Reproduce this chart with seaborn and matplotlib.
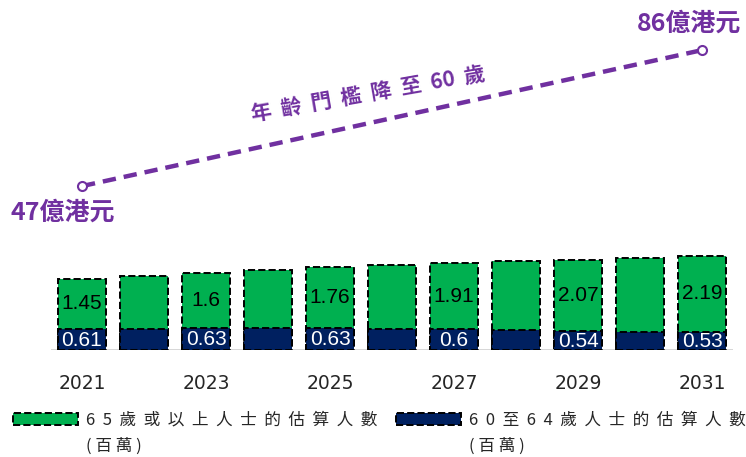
import numpy as np
import pandas as pd
import matplotlib
matplotlib.use("Agg")
import matplotlib.pyplot as plt
from matplotlib.patches import Rectangle
import seaborn as sns

# data
years = [2021, 2022, 2023, 2024, 2025, 2026, 2027, 2028, 2029, 2030, 2031]
age65 = [1.45, 1.52, 1.60, 1.68, 1.76, 1.84, 1.91, 1.99, 2.07, 2.13, 2.19]
age60_64 = [0.61, 0.62, 0.63, 0.64, 0.63, 0.62, 0.60, 0.57, 0.54, 0.53, 0.53]
labelled = [2021, 2023, 2025, 2027, 2029, 2031]
cost_years = [2021, 2031]
cost = [47, 86]
cost_labels = ["47億港元", "86億港元"]
title_tokens = ["年", "齡", "門", "檻", "降", "至", "60", "歲"]
legend_65 = "65歲或以上人士的估算人數"
legend_60 = "60至64歲人士的估算人數"
unit_txt = "(百萬)"

green = "#00B050"
navy = "#002060"
purple = "#7030A0"

sns.set_style("white")
plt.rcParams["font.family"] = ["Noto Sans CJK TC", "DejaVu Sans"]


def spaced(s, sep="  "):
    return sep.join(list(s))


df = pd.DataFrame({"year": years, "age65": age65, "age60_64": age60_64})
df["total"] = df["age65"] + df["age60_64"]
df["pos"] = np.arange(len(df))

fig = plt.figure(figsize=(7.46, 4.57), dpi=100)
ax = fig.add_axes([51 / 746, 107 / 457, 682 / 746, 330 / 457])

# totals in green, 60-64 drawn over the bottom part
sns.barplot(data=df, x="pos", y="total", color=green, width=0.775, saturation=1,
            edgecolor="black", linewidth=1.4, linestyle="--", ax=ax, native_scale=True)
sns.barplot(data=df, x="pos", y="age60_64", color=navy, width=0.775, saturation=1,
            edgecolor="black", linewidth=1.4, linestyle="--", ax=ax, native_scale=True)

ax.axhline(0, color="#D0D0D0", lw=1.2, zorder=0)
ax.set_xlim(-0.5, len(years) - 0.5)
ax.set_ylim(0, 330 / 34.6)
for s in ax.spines.values():
    s.set_visible(False)
ax.set_yticks([])
ax.set_xlabel("")
ax.set_ylabel("")
ax.set_xticks([years.index(y) for y in labelled])
ax.set_xticklabels([str(y) for y in labelled], fontsize=13.5, family="DejaVu Sans")
ax.tick_params(axis="x", length=0, pad=17)

for i, row in df.iterrows():
    if row["year"] in labelled:
        ax.text(row["pos"], row["age60_64"] + row["age65"] / 2, f"{row['age65']:g}",
                ha="center", va="center", fontsize=15, family="Liberation Sans", color="black")
        ax.text(row["pos"], row["age60_64"] / 2 - 0.02, f"{row['age60_64']:g}",
                ha="center", va="center", fontsize=15, family="Liberation Sans", color="white")

# cost line on its own scale
ax2 = ax.twinx()
ax2.set_ylim(0, 330 / 3.487)
ax2.set_yticks([])
for s in ax2.spines.values():
    s.set_visible(False)
cost_pos = [years.index(y) for y in cost_years]
sns.lineplot(x=cost_pos, y=cost, ax=ax2, color=purple, lw=3.2,
             linestyle=(0, (3, 1.8)), marker="o", markersize=6.5,
             markerfacecolor="white", markeredgecolor=purple, markeredgewidth=1.5)
ax2.set_ylabel("")

ax2.annotate(cost_labels[0], (cost_pos[0], cost[0]), xytext=(-14, -19),
             textcoords="offset points", ha="center", va="center",
             fontsize=18, fontweight="bold", color=purple)
ax2.annotate(cost_labels[1], (cost_pos[1], cost[1]), xytext=(-9, 19),
             textcoords="offset points", ha="center", va="center",
             fontsize=18, fontweight="bold", color=purple)
ax2.annotate("  ".join(title_tokens), ((cost_pos[0] + cost_pos[1]) / 2, (cost[0] + cost[1]) / 2),
             xytext=(-17, 17), textcoords="offset points", ha="center", va="center",
             rotation=10, rotation_mode="anchor",
             fontsize=15, fontweight="bold", color=purple)

# legend: two columns, unit on second row
h65 = Rectangle((0, 0), 1, 1, facecolor=green, edgecolor="black", linestyle="--", linewidth=1.4)
h60 = Rectangle((0, 0), 1, 1, facecolor=navy, edgecolor="black", linestyle="--", linewidth=1.4)
blank = Rectangle((0, 0), 1, 1, facecolor="none", edgecolor="none")
fig.legend([h65, blank, h60, blank],
           [spaced(legend_65), spaced(unit_txt, " "), spaced(legend_60), spaced(unit_txt, " ")],
           ncol=2, loc="lower left", bbox_to_anchor=(6 / 746, -4 / 457), frameon=False,
           fontsize=12, handlelength=3.9, handleheight=0.7, handletextpad=0.5,
           columnspacing=1.1, labelspacing=0.5, borderaxespad=0.0)

fig.savefig("out.png", dpi=100)
